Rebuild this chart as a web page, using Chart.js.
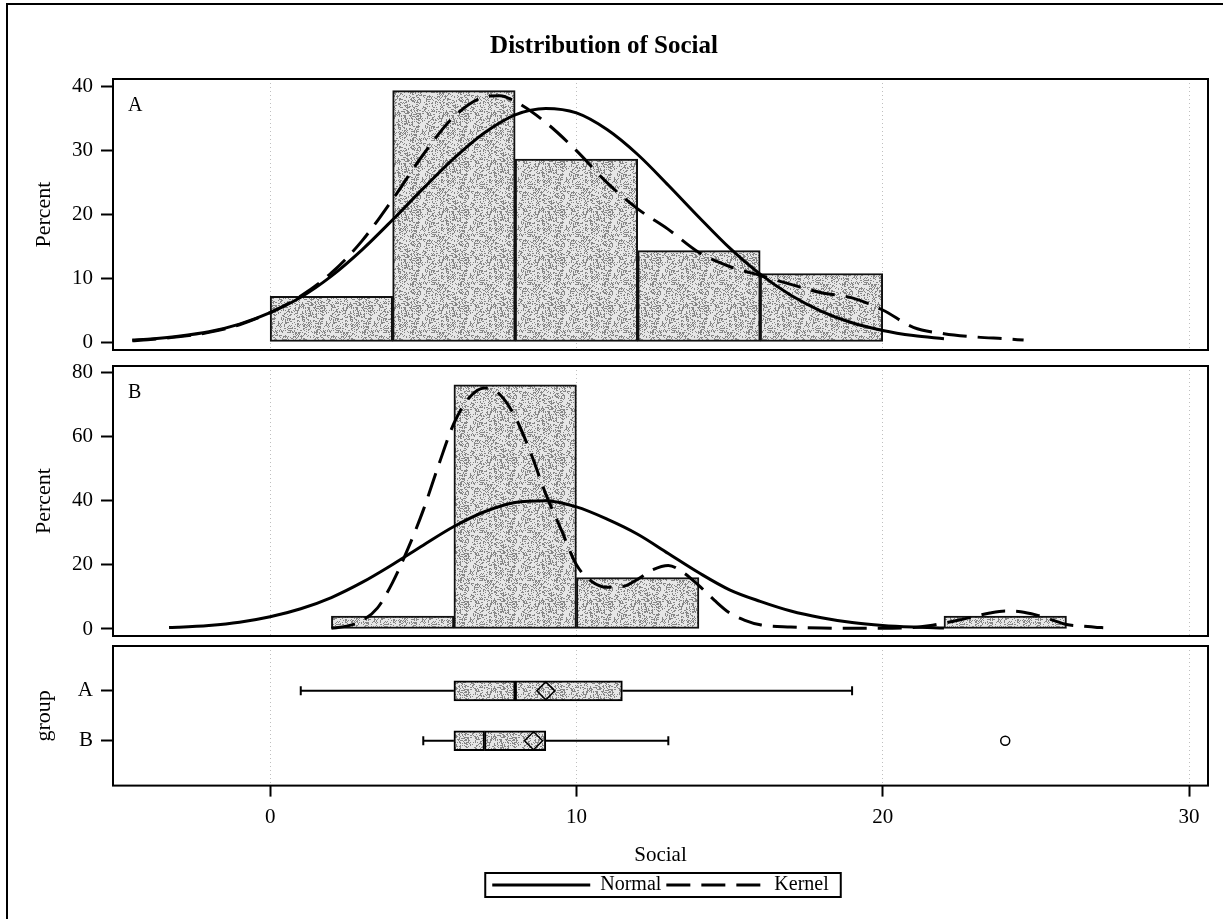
<!DOCTYPE html>
<html>
<head>
<meta charset="utf-8">
<title>Distribution of Social</title>
<script src="https://cdn.jsdelivr.net/npm/chart.js@4.4.1/dist/chart.umd.min.js"></script>
<style>
  html, body { margin: 0; padding: 0; background: #fff; overflow: hidden; }
  #page { position: relative; width: 1223px; height: 919px; overflow: hidden; }
  #frame { position: absolute; left: 6px; top: 3px; width: 1300px; height: 1000px; border: 2px solid #000; box-sizing: border-box; }
  canvas { position: absolute; left: 0; }
</style>
</head>
<body>
<div id="page">
  <div id="frame"></div>
  <canvas id="histA" width="1223" height="372" style="top:0"></canvas>
  <canvas id="histB" width="1223" height="314" style="top:344px"></canvas>
  <canvas id="boxes" width="1223" height="295" style="top:624px"></canvas>
</div>
<script>
'use strict';

// histogram bins, 4 units wide, keyed by midpoint (percent of group)
const binMidA = [2, 6, 10, 14, 18];
const pctA = [7.14, 39.29, 28.57, 14.29, 10.71];
const binMidB = [4, 8, 12, 24];
const pctB = [4, 76, 16, 4];

// fitted normal and kernel density curves, percent scale
const normalAX = [-4.5, -4, -3, -2, -1, 0, 1, 2, 3, 4, 5, 6, 7, 8, 9, 10, 11, 12, 13, 14, 15, 16, 17, 18, 19, 20, 21, 22];
const normalAY = [0.3, 0.45, 0.9, 1.6, 2.8, 4.6, 7.0, 10.3, 14.4, 19.1, 24.0, 28.7, 32.7, 35.5, 36.5, 35.8, 33.2, 29.3, 24.5, 19.5, 14.7, 10.6, 7.3, 4.8, 3.0, 1.8, 1.0, 0.5];
const kernelAX = [-4.5, -4, -3, -2, -1, 0, 1, 2, 3, 4, 5, 6, 7, 7.5, 8, 9, 10, 11, 12, 13, 14, 15, 16, 17, 18, 19, 20, 21, 22, 23, 24, 24.6];
const kernelAY = [0.2, 0.35, 0.8, 1.5, 2.7, 4.6, 7.2, 10.8, 15.8, 22.3, 29.3, 35.2, 38.3, 38.5, 37.6, 34.3, 29.9, 24.9, 20.8, 17.6, 14.0, 11.8, 10.4, 9.0, 7.7, 6.9, 5.0, 2.3, 1.3, 0.8, 0.5, 0.3];
const normalBX = [-3.3, -3, -2, -1, 0, 1, 2, 3, 4, 5, 6, 7, 8, 9, 10, 11, 12, 13, 14, 15, 16, 17, 18, 19, 20, 21, 22];
const normalBY = [0.45, 0.55, 1.1, 2.1, 3.8, 6.3, 9.8, 14.5, 20.1, 26.1, 31.9, 36.5, 39.4, 39.9, 38.0, 34.2, 29.5, 23.5, 17.5, 12.2, 8.6, 5.6, 3.5, 2.0, 1.1, 0.6, 0.3];
const kernelBX = [2, 2.5, 3, 3.5, 4, 4.5, 5, 5.5, 6, 6.5, 7, 7.5, 8, 8.5, 9, 9.5, 10, 10.5, 11, 11.5, 12, 12.5, 13, 13.5, 14, 14.5, 15, 15.5, 16, 17, 18, 19, 20, 21, 21.5, 22, 22.5, 23, 23.5, 24, 24.5, 25, 25.5, 26, 26.5, 27, 27.2];
const kernelBY = [0.2, 0.9, 2.6, 6.5, 14.5, 25, 37, 51, 64, 72, 75, 73, 66, 55, 42, 31, 20, 14.8, 13, 13.2, 15.5, 18.5, 19.8, 17.5, 13.5, 9, 5, 2.7, 1.3, 0.6, 0.3, 0.2, 0.2, 0.5, 1.0, 1.8, 2.8, 3.9, 5.0, 5.6, 5.4, 4.4, 2.9, 1.4, 0.9, 0.5, 0.4];

// box plot summaries per group
const groupNames = ['A', 'B'];
const boxMin = [1, 5];
const boxQ1 = [6, 6];
const boxMedian = [8, 7];
const boxQ3 = [11.5, 9];
const boxMax = [19, 13];
const boxMean = [9.0, 8.6];
const outlierX = [24];
const outlierGroup = ['B'];

const curveNames = ['Normal', 'Kernel'];
const xTicks = [0, 10, 20, 30];
const pctTicksA = [0, 10, 20, 30, 40];
const pctTicksB = [0, 20, 40, 60, 80];

const SERIF = '"Liberation Serif", "Times New Roman", serif';
const X_MIN = -5.13;
const X_MAX = 30.62;
const AXIS_W = 113;
const DASH = [24, 11];

// speckled grey fill for bars and boxes
function stipple() {
  const n = 48;
  const c = document.createElement('canvas');
  c.width = c.height = n;
  const g = c.getContext('2d');
  const img = g.createImageData(n, n);
  let s = 12345;
  for (let i = 0; i < n * n; i++) {
    s = (Math.imul(s, 1103515245) + 12345) & 0x7fffffff;
    const v = ((s >> 8) % 100) < 32 ? 135 : 230;
    img.data[i * 4] = img.data[i * 4 + 1] = img.data[i * 4 + 2] = v;
    img.data[i * 4 + 3] = 255;
  }
  g.putImageData(img, 0, 0);
  return g.createPattern(c, 'repeat');
}
const STIPPLE = stipple();

const pts = (xs, ys) => xs.map((x, i) => ({ x, y: ys[i] }));

function curve(xs, ys, dash) {
  return {
    type: 'line', data: pts(xs, ys), borderColor: '#000', borderWidth: 3,
    borderDash: dash, pointRadius: 0, cubicInterpolationMode: 'monotone', fill: false,
  };
}

function bars(mids, pcts) {
  return {
    type: 'bar', data: pts(mids, pcts), backgroundColor: STIPPLE,
    borderColor: '#111', borderWidth: 2, borderSkipped: false,
    barPercentage: 1, categoryPercentage: 1,
  };
}

// black frame round each panel, plus the panel letter
const panelFrame = {
  id: 'panelFrame',
  afterDraw(chart, args, opts) {
    const { ctx, chartArea: a } = chart;
    ctx.save();
    ctx.strokeStyle = '#000';
    ctx.lineWidth = 2;
    ctx.strokeRect(a.left, a.top, a.right - a.left, a.bottom - a.top);
    if (opts.label) {
      ctx.font = '20px ' + SERIF;
      ctx.fillStyle = '#000';
      ctx.textBaseline = 'middle';
      ctx.fillText(opts.label, a.left + 15, a.top + 27);
    }
    ctx.restore();
  },
};

// border round the legend entries
const legendBox = {
  id: 'legendBox',
  afterDraw(chart) {
    const boxes = chart.legend && chart.legend.legendHitBoxes;
    if (!boxes || !boxes.length) return;
    const l = Math.min(...boxes.map(b => b.left)) - 7;
    const r = Math.max(...boxes.map(b => b.left + b.width)) + 12;
    const t = boxes[0].top - 2;
    const h = boxes[0].height + 4;
    const ctx = chart.ctx;
    ctx.save();
    ctx.strokeStyle = '#000';
    ctx.lineWidth = 2;
    ctx.strokeRect(l, t, r - l, h);
    ctx.restore();
  },
};

function xScale(bottom) {
  return {
    type: 'linear', min: X_MIN, max: X_MAX, offset: false,
    afterBuildTicks: s => { s.ticks = xTicks.map(v => ({ value: v })); },
    afterFit: bottom ? undefined : s => { s.height = 0; },
    grid: {
      color: 'rgba(0,0,0,0.25)', lineWidth: 1, drawTicks: bottom, offset: false,
      tickLength: 11, tickColor: '#000', tickWidth: 2, tickBorderDash: [],
    },
    border: { display: false, dash: [1, 3] },
    ticks: { display: bottom, color: '#000', font: { family: SERIF, size: 21 }, padding: 8, maxRotation: 0 },
    title: {
      display: bottom, text: 'Social', color: '#000',
      font: { family: SERIF, size: 21 }, padding: { top: 5, bottom: 2 },
    },
  };
}

function yScale(title, min, max, ticks, labels, reverse = false) {
  return {
    type: 'linear', min, max, reverse, offset: false,
    afterBuildTicks: s => { s.ticks = ticks.map(v => ({ value: v })); },
    afterFit: s => { s.width = AXIS_W; },
    grid: { drawOnChartArea: false, drawTicks: true, offset: false, tickLength: 12, tickColor: '#000', tickWidth: 2 },
    border: { display: false },
    ticks: {
      color: '#000', font: { family: SERIF, size: 21 }, padding: 8,
      callback: labels ? (v, i) => labels[i] : v => v,
    },
    title: {
      display: true, text: title, color: '#000',
      font: { family: SERIF, size: 22 }, padding: { top: 31, bottom: 0 },
    },
  };
}

const quiet = { legend: { display: false }, tooltip: { enabled: false } };

new Chart(document.getElementById('histA'), {
  type: 'bar',
  data: {
    datasets: [
      curve(normalAX, normalAY, []),
      curve(kernelAX, kernelAY, DASH),
      bars(binMidA, pctA),
    ],
  },
  options: {
    responsive: false, animation: false, events: [],
    layout: { padding: { left: 0, right: 15, top: 0, bottom: 22 } },
    scales: { x: xScale(false), y: yScale('Percent', -1.25, 41.1, pctTicksA) },
    plugins: {
      ...quiet,
      title: {
        display: true, text: 'Distribution of Social', color: '#000',
        font: { family: SERIF, size: 25, weight: 'bold', lineHeight: 1.2 },
        padding: { top: 32, bottom: 17 },
      },
      panelFrame: { label: 'A' },
    },
  },
  plugins: [panelFrame],
});

new Chart(document.getElementById('histB'), {
  type: 'bar',
  data: {
    datasets: [
      curve(normalBX, normalBY, []),
      curve(kernelBX, kernelBY, DASH),
      bars(binMidB, pctB),
    ],
  },
  options: {
    responsive: false, animation: false, events: [],
    layout: { padding: { left: 0, right: 15, top: 22, bottom: 22 } },
    scales: { x: xScale(false), y: yScale('Percent', -2.18, 81.87, pctTicksB) },
    plugins: { ...quiet, panelFrame: { label: 'B' } },
  },
  plugins: [panelFrame],
});

// box plot rows: A at 1, B at 2
const rowPos = groupNames.map((g, i) => i + 1);
const rowOf = name => rowPos[groupNames.indexOf(name)];

function whisker(from, to, y) {
  return { type: 'line', data: [{ x: from, y }, { x: to, y }], borderColor: '#000', borderWidth: 2, pointRadius: 0 };
}

function boxHalf(lo, hi) {
  return {
    type: 'bar', indexAxis: 'y', grouped: false, barThickness: 20,
    data: groupNames.map((g, i) => ({ x: [lo[i], hi[i]], y: rowPos[i] })),
    backgroundColor: STIPPLE, borderColor: '#000', borderWidth: 2, borderSkipped: false,
  };
}

new Chart(document.getElementById('boxes'), {
  type: 'bar',
  data: {
    datasets: [
      {
        type: 'scatter', data: boxMean.map((m, i) => ({ x: m, y: rowPos[i] })),
        pointStyle: 'rectRot', pointRadius: 9, pointBackgroundColor: STIPPLE,
        pointBorderColor: '#000', pointBorderWidth: 1.5,
      },
      {
        type: 'scatter', data: outlierX.map((x, i) => ({ x, y: rowOf(outlierGroup[i]) })),
        pointStyle: 'circle', pointRadius: 4.5, pointBackgroundColor: '#fff',
        pointBorderColor: '#000', pointBorderWidth: 1.5,
      },
      {
        type: 'scatter',
        data: groupNames.flatMap((g, i) => [{ x: boxMin[i], y: rowPos[i] }, { x: boxMax[i], y: rowPos[i] }]),
        pointStyle: 'line', pointRotation: 90, pointRadius: 4.5,
        pointBorderColor: '#000', pointBorderWidth: 2,
      },
      ...groupNames.flatMap((g, i) => [
        whisker(boxMin[i], boxQ1[i], rowPos[i]),
        whisker(boxQ3[i], boxMax[i], rowPos[i]),
      ]),
      boxHalf(boxQ1, boxMedian),
      boxHalf(boxMedian, boxQ3),
    ],
  },
  options: {
    responsive: false, animation: false, events: [],
    layout: { padding: { left: 0, right: 15, top: 22, bottom: 14 } },
    scales: {
      x: xScale(true),
      y: yScale('group', 0.1, 2.9, rowPos, groupNames, true),
    },
    plugins: {
      tooltip: { enabled: false },
      legend: {
        display: true, position: 'bottom', fullSize: false,
        labels: {
          usePointStyle: true, pointStyleWidth: 98, padding: 5, color: '#000',
          font: { family: SERIF, size: 20 },
          generateLabels: () => curveNames.map((name, i) => ({
            text: name, pointStyle: 'line', lineWidth: 3, strokeStyle: '#000',
            fillStyle: '#000', fontColor: '#000', lineDash: i === 0 ? [] : DASH,
          })),
        },
      },
      panelFrame: {},
    },
  },
  plugins: [panelFrame, legendBox],
});
</script>
</body>
</html>
